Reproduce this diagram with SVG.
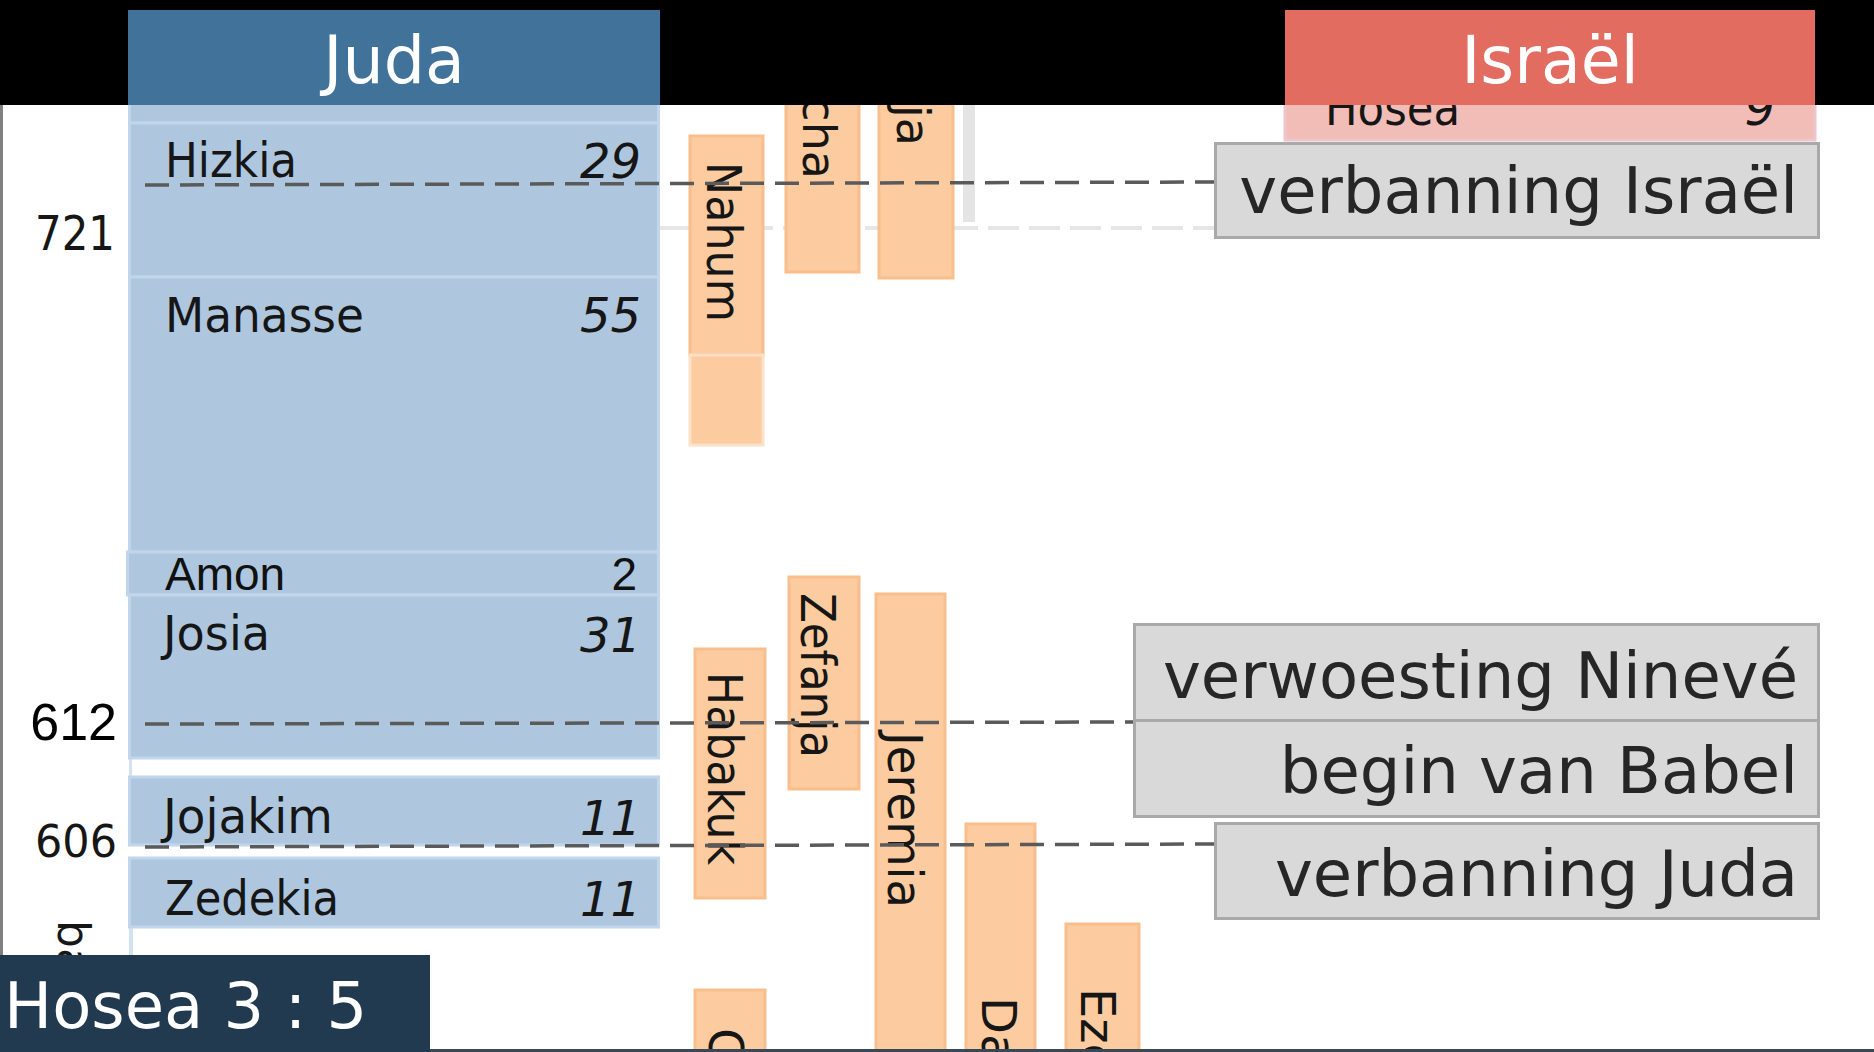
<svg xmlns="http://www.w3.org/2000/svg" width="1874" height="1052" viewBox="0 0 1874 1052">
<style>
.blk{fill:#aec7de;stroke:#c1d6ea;stroke-width:3}
.lbl{font-family:"DejaVu Sans","Liberation Sans",sans-serif;font-size:48px;fill:#161616}
.num{font-style:italic;text-anchor:end}
.arial{font-family:"Liberation Sans",Arial,sans-serif;font-size:46px;fill:#111}
.pro{fill:#fccca0;stroke:#f9be8b;stroke-width:3}
.pro2{fill:#fccca0;stroke:#fde0c8;stroke-width:3}
.ptxt{font-family:"DejaVu Sans",sans-serif;font-size:48px;fill:#161616}
.ev{fill:#d9d9d9;stroke:#a9a9a9;stroke-width:3}
.evt{font-family:"DejaVu Sans",sans-serif;font-size:64px;fill:#262626;text-anchor:end}
.dash{stroke:#5a5a5a;stroke-width:3.5;stroke-dasharray:24 11;fill:none}
.hdr{font-family:"DejaVu Sans",sans-serif;font-size:65px;fill:#ffffff;text-anchor:middle}
.year{font-family:"DejaVu Sans",sans-serif;fill:#161616;text-anchor:end}
</style>
<rect x="0" y="0" width="1874" height="1052" fill="#ffffff"/>
<rect x="0" y="105" width="3" height="850" fill="#808080"/>

<g id="grid">
<line x1="660" y1="228" x2="1214" y2="228" stroke="#e6e6e6" stroke-width="4" stroke-dasharray="31 10"/>
<rect x="963" y="105" width="12" height="117" fill="#e4e4e4"/>
</g>

<g id="juda-kings">
<rect x="129" y="758" width="3" height="19" fill="#d3e2f0"/>
<rect x="129" y="927" width="4" height="30" fill="#d3e2f0"/>
<g id="achaz"><rect class="blk" x="129.5" y="90" width="529" height="33"/></g>
<g id="hizkia"><rect class="blk" x="129.5" y="123" width="529" height="154"/>
<text class="lbl" x="165" y="177" textLength="132" lengthAdjust="spacingAndGlyphs">Hizkia</text>
<text class="lbl num" x="641" y="178">29</text></g>
<g id="manasse"><rect class="blk" x="129.5" y="277" width="529" height="275"/>
<text class="lbl" x="165" y="332" textLength="199" lengthAdjust="spacingAndGlyphs">Manasse</text>
<text class="lbl num" x="641" y="332">55</text></g>
<g id="amon"><rect class="blk" x="127.5" y="552" width="531" height="43"/>
<text class="arial" x="165" y="590">Amon</text>
<text class="arial" x="637" y="590" text-anchor="end">2</text></g>
<g id="josia"><rect class="blk" x="129.5" y="595" width="529" height="163"/>
<text class="lbl" x="163" y="650" textLength="107" lengthAdjust="spacingAndGlyphs">Josia</text>
<text class="lbl num" x="641" y="652">31</text></g>
<g id="jojakim"><rect class="blk" x="129.5" y="777" width="529" height="68"/>
<text class="lbl" x="163" y="833" textLength="170" lengthAdjust="spacingAndGlyphs">Jojakim</text>
<text class="lbl num" x="641" y="835">11</text></g>
<g id="zedekia"><rect class="blk" x="129.5" y="858" width="529" height="69"/>
<text class="lbl" x="165" y="915" textLength="174" lengthAdjust="spacingAndGlyphs">Zedekia</text>
<text class="lbl num" x="641" y="916">11</text></g>
</g>

<g id="israel-kings">
<g id="hosea-king"><rect x="1285" y="90" width="530" height="50" fill="#f2bdb7" stroke="#ecc6cc" stroke-width="3"/>
<text class="lbl" x="1325" y="125" textLength="135" lengthAdjust="spacingAndGlyphs">Hosea</text>
<text class="lbl num" x="1775" y="125">9</text></g>
</g>

<g id="prophets">
<g id="micha"><rect class="pro" x="786" y="90" width="73" height="182"/>
<text class="ptxt" transform="translate(803,179) rotate(90)" text-anchor="end" style="font-size:46px">cha</text></g>
<g id="jesaja"><rect class="pro" x="879" y="90" width="74" height="188"/>
<text class="ptxt" transform="translate(897,146) rotate(90)" text-anchor="end" style="font-size:46px">ja</text></g>
<g id="nahum"><rect class="pro" x="690" y="136" width="73" height="219"/>
<rect class="pro2" x="690" y="355" width="73" height="90"/>
<text class="ptxt" transform="translate(707,162) rotate(90)" textLength="160" lengthAdjust="spacingAndGlyphs">Nahum</text></g>
<g id="zefanja"><rect class="pro" x="789" y="577" width="70" height="212"/>
<text class="ptxt" transform="translate(801,593) rotate(90)" textLength="165" lengthAdjust="spacingAndGlyphs">Zefanja</text></g>
<g id="habakuk"><rect class="pro" x="695" y="649" width="70" height="249"/>
<text class="ptxt" transform="translate(708,672) rotate(90)" textLength="193" lengthAdjust="spacingAndGlyphs">Habakuk</text></g>
<g id="jeremia"><rect class="pro" x="876" y="594" width="69" height="470"/>
<text class="ptxt" transform="translate(888,732) rotate(90)" textLength="176" lengthAdjust="spacingAndGlyphs">Jeremia</text></g>
<g id="daniel"><rect class="pro" x="966" y="824" width="69" height="240"/>
<text class="ptxt" transform="translate(982,997) rotate(90)">Da</text></g>
<g id="ezechiel"><rect class="pro" x="1066" y="924" width="73" height="140"/>
<text class="ptxt" transform="translate(1081,988) rotate(90)">Eze</text></g>
<g id="prophet-c"><rect class="pro" x="695" y="990" width="70" height="80"/>
<text class="ptxt" transform="translate(709,1028) rotate(90)">C</text></g>
</g>

<g id="years">
<text class="year" x="115" y="250" style="font-size:48px" textLength="80" lengthAdjust="spacingAndGlyphs">721</text>
<text x="117" y="740" style="font-family:'Liberation Sans',Arial,sans-serif;font-size:52px;fill:#000;text-anchor:end">612</text>
<text class="year" x="117" y="857" style="font-size:44px" textLength="82" lengthAdjust="spacingAndGlyphs">606</text>
<text class="ptxt" transform="translate(58,920) rotate(90)" style="font-size:44px">ba</text>
</g>

<g id="connectors">
<line class="dash" x1="145" y1="185" x2="1214" y2="182"/>
<line class="dash" x1="145" y1="724" x2="1134" y2="722"/>
<line class="dash" x1="145" y1="847" x2="1214" y2="844"/>
</g>

<g id="events">
<g id="ev-israel"><rect class="ev" x="1215.5" y="143.5" width="603" height="94"/>
<text class="evt" x="1798" y="213">verbanning Israël</text></g>
<g id="ev-ninive"><rect class="ev" x="1134.5" y="624.5" width="684" height="96"/>
<text class="evt" x="1798" y="698">verwoesting Ninevé</text></g>
<g id="ev-babel"><rect class="ev" x="1134.5" y="720.5" width="684" height="96"/>
<text class="evt" x="1798" y="793">begin van Babel</text></g>
<g id="ev-juda"><rect class="ev" x="1215.5" y="823.5" width="603" height="95"/>
<text class="evt" x="1798" y="896">verbanning Juda</text></g>
</g>

<g id="header">
<rect x="0" y="0" width="1874" height="105" fill="#000000"/>
<g id="hdr-juda"><rect x="128" y="10" width="532" height="95" fill="#41739a"/>
<text class="hdr" x="394" y="83">Juda</text></g>
<g id="hdr-israel"><rect x="1285" y="10" width="530" height="95" fill="#e36c61"/>
<text class="hdr" x="1550" y="83">Israël</text></g>
</g>

<g id="footer">
<rect x="0" y="1049" width="1874" height="3" fill="#3a4754"/>
<rect x="0" y="955" width="430" height="97" fill="#213a4f"/>
<text x="4" y="1028" font-family="DejaVu Sans,sans-serif" font-size="64" fill="#ffffff">Hosea 3 : 5</text>
</g>
</svg>
